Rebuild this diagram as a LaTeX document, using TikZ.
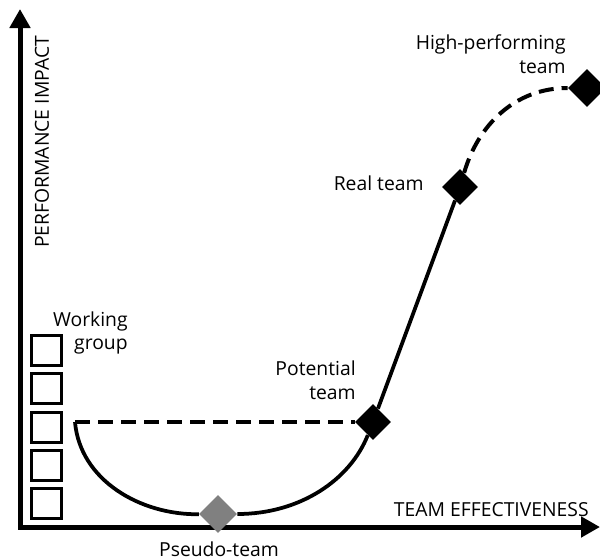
\documentclass[tikz,border=0pt]{standalone}
\usepackage{fontspec}
\setmainfont{Open Sans}
\usetikzlibrary{arrows.meta,shapes.geometric}

\begin{document}
\begin{tikzpicture}[x=0.2mm,y=-0.2mm]

\tikzset{axis/.style={line width=1mm, {Triangle[length=3.8mm,width=4mm]}-{Triangle[length=3.8mm,width=4mm]}},
  curve/.style={line width=0.75mm},
  dashcurve/.style={line width=0.8mm, dash pattern=on 3mm off 1.6mm},
  stage/.style={diamond, fill=black, inner sep=0pt, minimum width=7.2mm, minimum height=7.2mm},
  box/.style={draw, line width=0.6mm, minimum size=6mm, inner sep=0pt},
  lbl/.style={font=\fontsize{11}{13.6}\selectfont, inner sep=0pt}}

\useasboundingbox (0,0) rectangle (600,559);

% axes
\coordinate (O) at (20,527);
\coordinate (ytip) at (20,9);
\coordinate (xtip) at (600,527);
\draw[axis] (ytip) -- (O) -- (xtip);
\node[lbl, rotate=90] (ylab) at (42,142) {PERFORMANCE IMPACT};
\node[lbl, anchor=east] (xlab) at (589,510) {TEAM EFFECTIVENESS};

% working group
\foreach \y [count=\i] in {350,388,427,465,503}
{
\node[box] (sq\i) at (46,\y) {};
}
\node[lbl, align=right, anchor=east] (wglab) at (128,333) {Working\\group};
\coordinate (wg) at (75,422);

% stages
\node[stage, fill=gray, minimum width=7.6mm, minimum height=7.6mm] (pseudo) at (218,514) {};
\node[stage] (pot) at (373,422) {};
\node[stage] (real) at (460,187) {};
\node[stage, minimum width=7.6mm, minimum height=7.6mm] (high) at (587,88) {};

\node[lbl] (pseudolab) at (219,549) {Pseudo-team};
\node[lbl, align=right, anchor=east] (potlab) at (356,380) {Potential\\team};
\node[lbl, anchor=east] (reallab) at (424,183) {Real team};
\node[lbl, align=right, anchor=east] (highlab) at (566,54) {High-performing\\team};

% curve
\draw[dashcurve] (wg) -- (pot);
\draw[curve] (wg) .. controls (80,480) and (140,515) .. (pseudo);
\draw[curve] (pseudo) .. controls (300,514) and (350,480) .. (pot);
\draw[curve] (pot) -- (real);
\draw[dashcurve] (real) .. controls (478,125) and (515,88) .. (high);

\end{tikzpicture}
\end{document}
